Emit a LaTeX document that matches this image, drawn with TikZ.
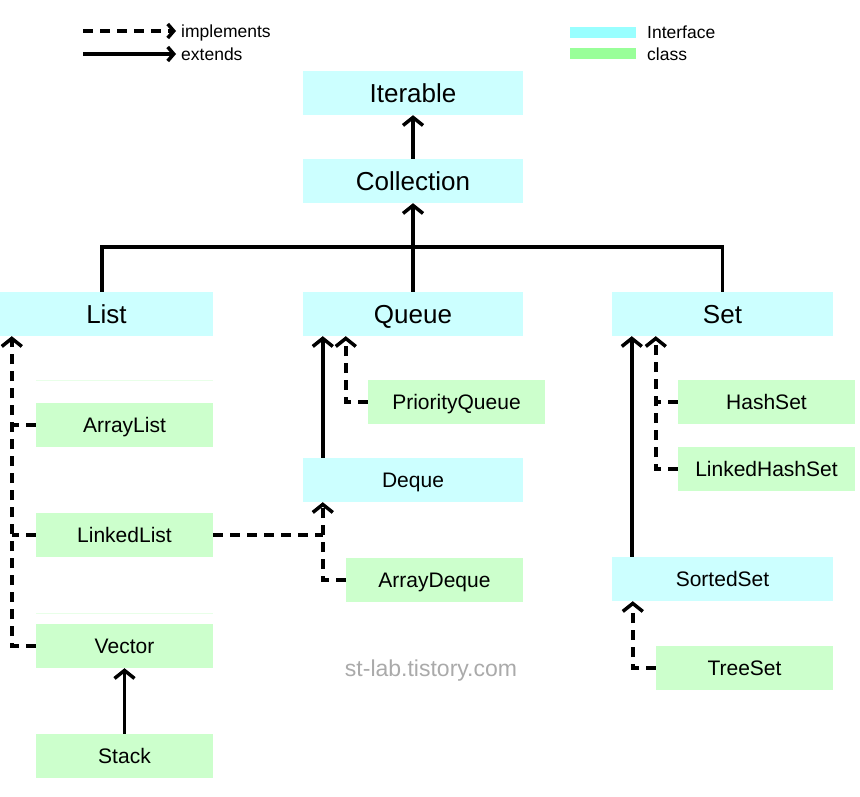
\documentclass[tikz,border=0pt]{standalone}
\usepackage{fontspec}
\setmainfont{Liberation Sans}
\usetikzlibrary{arrows.meta}
\definecolor{ifc}{HTML}{CCFFFF}
\definecolor{clc}{HTML}{CCFFCC}
\definecolor{ifleg}{HTML}{99FFFF}
\definecolor{clleg}{HTML}{99FF99}
\definecolor{wm}{HTML}{AAAAAA}
\begin{document}
\begin{tikzpicture}[x=1pt,y=-1pt,
  box/.style={inner sep=0pt, anchor=center, text=black, minimum height=44pt, text depth=0pt},
  iface/.style={box, fill=ifc, minimum width=220pt, font=\fontsize{26}{26}\selectfont, text height=18.6pt},
  ifacesm/.style={box, fill=ifc, minimum width=220pt, font=\fontsize{21}{21}\selectfont, text height=15pt},
  cls/.style={box, fill=clc, minimum width=177pt, font=\fontsize{21}{21}\selectfont, text height=15pt},
  legtext/.style={anchor=west, inner sep=0pt, font=\fontsize{17.5}{17.5}\selectfont, text height=12.5pt, text depth=0pt},
  solidline/.style={line width=3.5pt},
  dashline/.style={line width=3.5pt, dash pattern=on 10pt off 7pt},
  ext/.style={solidline, -{Straight Barb[length=8pt,width=20pt,line width=3.5pt]}},
  impl/.style={dashline, -{Straight Barb[length=8pt,width=20pt,line width=3.5pt]}},
  legext/.style={solidline, -{Straight Barb[length=6pt,width=14pt,line width=3.5pt]}},
  legimpl/.style={dashline, -{Straight Barb[length=6pt,width=14pt,line width=3.5pt]}},
]
\fill[white] (0,0) rectangle (860,797);
\useasboundingbox (0,0) rectangle (860,797);

% legend
\coordinate (la) at (83,31);
\coordinate (lb) at (83,54);
\node[legtext] (limpl) at (181,31) {implements};
\node[legtext] (lext) at (181,54) {extends};
\draw[legimpl] (la) -- ([xshift=-5pt]limpl.west);
\draw[legext] (lb) -- ([xshift=-5pt]lext.west);
\node[fill=ifleg, minimum width=66pt, minimum height=11pt, inner sep=0pt] (legI) at (603,32.5) {};
\node[fill=clleg, minimum width=66pt, minimum height=11pt, inner sep=0pt] (legC) at (603,53.5) {};
\node[legtext] (legIt) at (647,32) {Interface};
\node[legtext] (legCt) at (647,54) {class};

% faint separators
\draw[clc!45, line width=1pt] (36,380) -- (213,380);
\draw[clc!45, line width=1pt] (36,613) -- (213,613);

% nodes
\node[iface] (Iterable) at (413,93) {Iterable};
\node[iface] (Collection) at (413,181) {Collection};
\node[iface, minimum width=213pt] (List) at (106.5,314) {List};
\node[iface] (Queue) at (413,314) {Queue};
\node[iface, minimum width=221pt] (Set) at (722.5,314) {Set};
\node[cls] (ArrayList) at (124.5,425) {ArrayList};
\node[cls] (LinkedList) at (124.5,535) {LinkedList};
\node[cls] (Vector) at (124.5,646) {Vector};
\node[cls] (Stack) at (124.5,756) {Stack};
\node[cls] (PriorityQueue) at (456.5,402) {PriorityQueue};
\node[ifacesm] (Deque) at (413,480) {Deque};
\node[cls] (ArrayDeque) at (434.5,580) {ArrayDeque};
\node[cls] (HashSet) at (766.5,402) {HashSet};
\node[cls] (LinkedHashSet) at (766.5,469) {LinkedHashSet};
\node[ifacesm, minimum width=221pt] (SortedSet) at (722.5,579) {SortedSet};
\node[cls] (TreeSet) at (744.5,668) {TreeSet};

\node[text=wm, font=\fontsize{23}{23}\selectfont, inner sep=0pt, text height=16.5pt, text depth=0pt] (wmark) at (431,668) {st-lab.tistory.com};

% tree
\coordinate (J) at (413,247);
\draw[ext] (Collection.north) -- (Iterable.south);
\draw[solidline] ([xshift=-4.5pt]List.north) |- (J) -| (Set.north);
\draw[ext] (Queue.north) -- (Collection.south);

% List implementations
\coordinate (Ltip) at ([xshift=12pt]List.south west);
\draw[impl] (Vector.west) -| (Ltip);
\draw[dashline] (ArrayList.west) -- (ArrayList.west -| Ltip);
\draw[dashline] (LinkedList.west) -- (LinkedList.west -| Ltip);
\draw[ext] (Stack.north) -- (Vector.south);

% Queue
\draw[ext] ([xshift=20pt]Deque.north west) -- ([xshift=20pt]Queue.south west);
\draw[impl] (PriorityQueue.west) -| ([xshift=43pt]Queue.south west);
\coordinate (Dtip) at ([xshift=20pt]Deque.south west);
\draw[impl] (ArrayDeque.west) -| (Dtip);
\draw[dashline] (LinkedList.east) -- (LinkedList.east -| Dtip);

% Set
\draw[ext] ([xshift=20pt]SortedSet.north west) -- ([xshift=20pt]Set.south west);
\coordinate (Stip) at ([xshift=44pt]Set.south west);
\draw[impl] (LinkedHashSet.west) -| (Stip);
\draw[dashline] (HashSet.west) -- (HashSet.west -| Stip);
\draw[impl] (TreeSet.west) -| ([xshift=21pt]SortedSet.south west);
\end{tikzpicture}
\end{document}
